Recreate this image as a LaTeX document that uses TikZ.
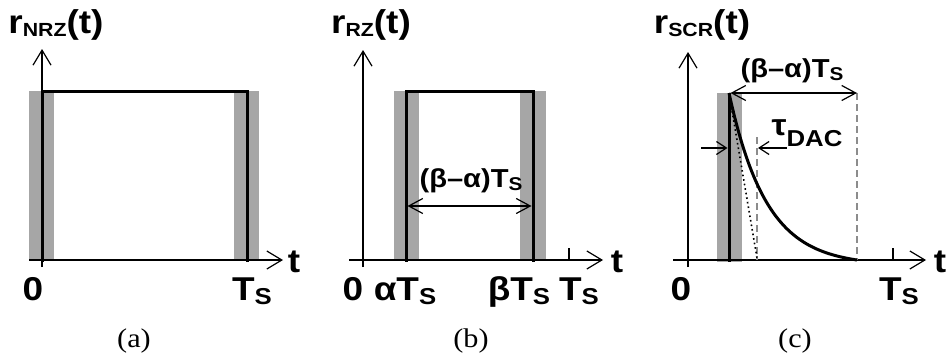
\documentclass[tikz,border=0pt]{standalone}
\usepackage{fontspec}
\setmainfont[FakeStretch=1.12]{Liberation Sans}
\newfontfamily\capfont[FakeStretch=1.12]{Liberation Serif}
\usetikzlibrary{arrows.meta}
\definecolor{bargray}{HTML}{A6A6A6}
\definecolor{dashgray}{HTML}{8C8C8C}
\newcommand\mysub[3]{\raisebox{-#2}{\fontsize{#1}{#1}\selectfont #3}}
\tikzset{
  bigtext/.style={font=\fontsize{33}{33}\selectfont\bfseries, inner sep=0pt, anchor=base},
  midtext/.style={font=\fontsize{26}{26}\selectfont\bfseries, inner sep=0pt, anchor=base},
  captext/.style={font=\fontsize{27}{27}\selectfont\capfont, inner sep=0pt, anchor=base},
  axisline/.style={line width=1.2pt, -{Straight Barb[length=15pt,width=18pt,line width=1.2pt]}},
  dimarrow/.style={line width=1.2pt, {Straight Barb[length=14pt,width=15pt,line width=1.2pt]}-{Straight Barb[length=14pt,width=15pt,line width=1.2pt]}},
  tauarrow/.style={line width=1.2pt, -{Straight Barb[length=10pt,width=13pt,line width=1.2pt]}},
  pulseline/.style={line width=3pt, line join=miter},
  graybar/.style={fill=bargray, draw=none},
  ticklinestyle/.style={line width=1.2pt},
  guideline/.style={dashgray, line width=1.2pt, dash pattern=on 7pt off 4pt},
}
\begin{document}
\begin{tikzpicture}[x={(1pt,0)}, y={(0,-1pt)}]
\useasboundingbox (0,0) rectangle (949,356);
% ---------------- panel (a)
\fill[graybar] (29,91) rectangle (54,260);
\fill[graybar] (234,91) rectangle (259,260);
\coordinate (axL) at (29,260); \coordinate (axR) at (283,260);
\coordinate (ayB) at (42,267); \coordinate (ayT) at (42,49);
\draw[axisline] (axL) -- (axR);
\draw[axisline] (ayB) -- (ayT);
\coordinate (ap1) at (42,261.5); \coordinate (ap2) at (42,91);
\coordinate (ap3) at (247,91); \coordinate (ap4) at (247,261.5);
\draw[pulseline] (ap1) -- (ap2) -- (ap3) -- (ap4);
\node[bigtext] (ylab-a) at (56,33) {r\mysub{19}{3pt}{NRZ}(t)};
\node[bigtext] (zero-a) at (33,300) {0};
\node[bigtext] (ts-a) at (252,300) {T\mysub{23}{4pt}{S}};
\node[bigtext] (t-a) at (294,272) {t};
\node[captext] (cap-a) at (134,347) {(a)};
% ---------------- panel (b)
\fill[graybar] (394,91) rectangle (419,260);
\fill[graybar] (520,91) rectangle (546,260);
\coordinate (bxL) at (349,260); \coordinate (bxR) at (603,260);
\coordinate (byB) at (363,267); \coordinate (byT) at (363,50);
\draw[axisline] (bxL) -- (bxR);
\draw[axisline] (byB) -- (byT);
\coordinate (btk1) at (569,248); \coordinate (btk2) at (569,260);
\draw[ticklinestyle] (btk1) -- (btk2);
\coordinate (bp1) at (406,261.5); \coordinate (bp2) at (406,91);
\coordinate (bp3) at (533,91); \coordinate (bp4) at (533,261.5);
\draw[pulseline] (bp1) -- (bp2) -- (bp3) -- (bp4);
\coordinate (bd1) at (407.5,206); \coordinate (bd2) at (531.5,206);
\draw[dimarrow] (bd1) -- (bd2);
\node[midtext] (dim-b) at (471,187) {(β–α)T\mysub{18.5}{3pt}{S}};
\node[bigtext] (ylab-b) at (371,33) {r\mysub{19}{3pt}{RZ}(t)};
\node[bigtext] (zero-b) at (353,300) {0};
\node[bigtext] (al-b) at (405,300) {αT\mysub{23}{4pt}{S}};
\node[bigtext] (be-b) at (519,300) {βT\mysub{23}{4pt}{S}};
\node[bigtext] (ts-b) at (579,300) {T\mysub{23}{4pt}{S}};
\node[bigtext] (t-b) at (617,272) {t};
\node[captext] (cap-b) at (471,347) {(b)};
% ---------------- panel (c)
\fill[graybar] (717,93) rectangle (742,262);
\coordinate (cxL) at (673,260); \coordinate (cxR) at (926,260);
\coordinate (cyB) at (688,267); \coordinate (cyT) at (688,52);
\draw[axisline] (cxL) -- (cxR);
\draw[axisline] (cyB) -- (cyT);
\coordinate (ctk1) at (893,248); \coordinate (ctk2) at (893,260);
\draw[ticklinestyle] (ctk1) -- (ctk2);
\coordinate (cg1) at (857,93); \coordinate (cg2) at (857,260);
\draw[guideline] (cg1) -- (cg2);
\coordinate (cm1) at (757,137); \coordinate (cm2) at (757,260);
\draw[guideline] (cm1) -- (cm2);
\coordinate (ctop) at (729,93); \coordinate (cbot) at (729,261.5);
\coordinate (ctan) at (757,258);
\draw[line width=1.6pt, dash pattern=on 1.6pt off 3pt] (ctop) -- (ctan);
\draw[pulseline] (cbot) -- (ctop);
\draw[pulseline] plot[domain=0:128, samples=80, smooth] ({729+\x},{93+167*(1-exp(-\x/37.5))/(1-exp(-128/37.5))});
\coordinate (cd1) at (730.5,93); \coordinate (cd2) at (857,93);
\draw[dimarrow] (cd1) -- (cd2);
\node[midtext] (dim-c) at (792,77) {(β–α)T\mysub{18.5}{3pt}{S}};
\coordinate (tl1) at (701,148); \coordinate (tl2) at (727.5,148);
\coordinate (tr1) at (787,148); \coordinate (tr2) at (758,148);
\draw[tauarrow] (tl1) -- (tl2);
\draw[tauarrow] (tr1) -- (tr2);
\node[font=\fontsize{30}{30}\selectfont\bfseries, inner sep=0pt, anchor=base] (tau-c) at (807,135) {τ\mysub{23}{11pt}{DAC}};
\node[bigtext] (ylab-c) at (702,33) {r\mysub{19}{3pt}{SCR}(t)};
\node[bigtext] (zero-c) at (681,300) {0};
\node[bigtext] (ts-c) at (899,300) {T\mysub{23}{4pt}{S}};
\node[bigtext] (t-c) at (940,272) {t};
\node[captext] (cap-c) at (795,347) {(c)};
\end{tikzpicture}
\end{document}
